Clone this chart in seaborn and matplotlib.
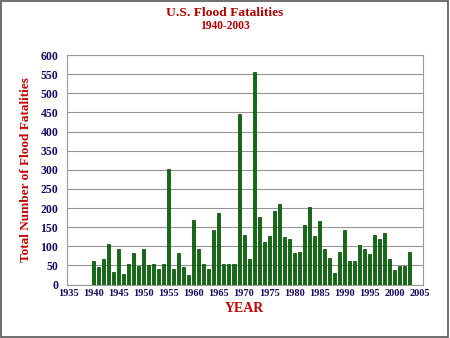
import matplotlib
matplotlib.use("Agg")
import matplotlib.pyplot as plt
import seaborn as sns
import pandas as pd
from matplotlib.patches import Rectangle
from matplotlib.ticker import MultipleLocator

years = list(range(1940, 2004))
fatalities = [61, 46, 68, 106, 33, 92, 27, 54, 82, 48,
              92, 51, 54, 40, 54, 302, 42, 82, 46, 25,
              169, 92, 54, 40, 143, 188, 55, 53, 55, 446,
              130, 68, 555, 177, 111, 127, 192, 211, 124, 119,
              82, 84, 155, 204, 127, 166, 94, 69, 31, 84,
              143, 62, 62, 103, 92, 80, 130, 118, 136, 68,
              38, 48, 48, 85]
yticks = list(range(0, 601, 50))
xticks = list(range(1935, 2006, 5))

title = "U.S. Flood Fatalities"
subtitle = "1940-2003"
xlabel = "YEAR"
ylabel = "Total Number of Flood Fatalities"

df = pd.DataFrame({"year": years, "fatalities": fatalities})

sns.set_style("white")
plt.rcParams["font.family"] = ["Liberation Serif", "DejaVu Serif"]

fig = plt.figure(figsize=(4.5, 3.38), dpi=100)
ax = fig.add_axes([0.148, 0.158, 0.792, 0.679])

sns.barplot(data=df, x="year", y="fatalities", native_scale=True, width=0.6,
            color="#0b700b", edgecolor="#053d05", linewidth=0.5, saturation=1,
            ax=ax, zorder=3)

ax.set_xlim(1934.7, 2005.6)
ax.set_ylim(0, 600)
ax.set_yticks(yticks)
ax.set_xticks(xticks)
ax.xaxis.set_minor_locator(MultipleLocator(1))
ax.yaxis.grid(True, color="#959595", linewidth=0.8, zorder=0)
ax.set_axisbelow(True)

tick_color = "#1a0a5e"
ax.tick_params(axis="y", direction="out", length=4, width=0.8, color="#888888",
               labelsize=8.5, labelcolor=tick_color, pad=2)
ax.tick_params(axis="x", which="both", direction="in", length=3, width=0.6,
               color="#888888", labelsize=7.5, labelcolor=tick_color, pad=3)
for lab in ax.get_xticklabels() + ax.get_yticklabels():
    lab.set_fontweight("bold")

for s in ax.spines.values():
    s.set_color("#999999")
    s.set_linewidth(0.8)

ax.set_xlabel(xlabel, color="#c00000", fontsize=10, fontweight="bold", labelpad=3)
ax.set_ylabel(ylabel, color="#c00000", fontsize=9.5, fontweight="bold", labelpad=6)

fig.text(0.5, 1 - 12.5 / 338, title, ha="center", va="center",
         color="#b00000", fontsize=9.7, fontweight="bold")
fig.text(0.5, 1 - 26 / 338, subtitle, ha="center", va="center",
         color="#b00000", fontsize=8.3, fontweight="bold")

fig.patches.append(Rectangle((0.002, 0.003), 0.993, 0.994, transform=fig.transFigure,
                             fill=False, edgecolor="#555555", linewidth=1.2))

fig.savefig("out.png", dpi=100)
